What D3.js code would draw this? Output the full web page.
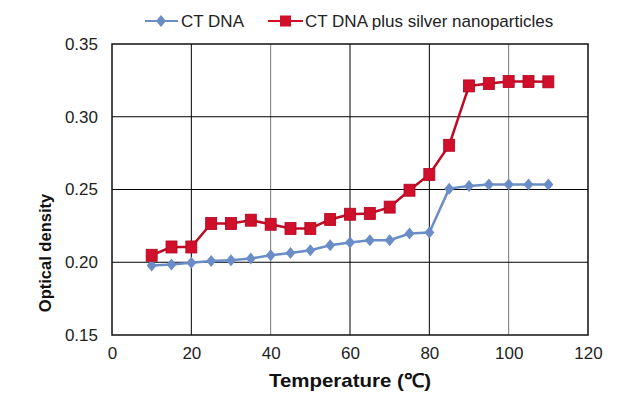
<!DOCTYPE html>
<html><head><meta charset="utf-8">
<script src="https://cdn.jsdelivr.net/npm/d3@7/dist/d3.min.js"></script>
<style>body{margin:0;background:#fff}svg{display:block}text{font-family:"Liberation Sans",Arial,sans-serif}</style>
</head><body><svg id="c" width="623" height="397"></svg>
<script>
const temps = [10,15,20,25,30,35,40,45,50,55,60,65,70,75,80,85,90,95,100,105,110];
const ctDNA = [0.1977,0.1984,0.1996,0.2009,0.2014,0.2025,0.2048,0.2064,0.2082,0.2117,0.2135,0.2151,0.2151,0.2197,0.2204,0.2506,0.2524,0.2534,0.2534,0.2534,0.2534];
const ctDNAAg = [0.2048,0.2105,0.2105,0.2266,0.2266,0.2289,0.2261,0.2232,0.2232,0.2294,0.2330,0.2335,0.2379,0.2495,0.2603,0.2804,0.3212,0.3228,0.3242,0.3242,0.3240];
const xTicks = [0,20,40,60,80,100,120];
const yTicks = [0.15,0.20,0.25,0.30,0.35];
const seriesNames = ["CT DNA","CT DNA plus silver nanoparticles"];

const svg = d3.select("#c");
const L=112,R=588,T=44,B=335;
const x = d3.scaleLinear().domain([0,120]).range([L,R]);
const y = d3.scaleLinear().domain([0.15,0.35]).range([B,T]);

// grid
const g = svg.append("g");
g.selectAll("line.v").data(xTicks.slice(1,-1)).join("line")
  .attr("x1",d=>x(d)).attr("x2",d=>x(d)).attr("y1",T).attr("y2",B)
  .attr("stroke",d=>(d===40||d===100)?"#7a7a7a":"#000").attr("stroke-width",1);
g.selectAll("line.h").data(yTicks.slice(1,-1)).join("line")
  .attr("x1",L).attr("x2",R).attr("y1",d=>y(d)).attr("y2",d=>y(d))
  .attr("stroke","#000").attr("stroke-width",1);
svg.append("rect").attr("x",L).attr("y",T).attr("width",R-L).attr("height",B-T)
  .attr("fill","none").attr("stroke","#111").attr("stroke-width",1.5);

// axes
const xa = svg.append("g").attr("transform",`translate(0,${B})`)
  .call(d3.axisBottom(x).tickValues(xTicks).tickSize(0).tickPadding(12));
const ya = svg.append("g").attr("transform",`translate(${L},0)`)
  .call(d3.axisLeft(y).tickValues(yTicks).tickFormat(d3.format(".2f")).tickSize(0).tickPadding(14));
[xa,ya].forEach(a=>{a.select(".domain").remove();a.selectAll("text").attr("font-size",17).attr("fill","#222").attr("font-family","Liberation Sans, Arial, sans-serif");});

// lines
const blue="#6b8dc7", red="#d0102a";
const line = d3.line().x(d=>x(d[0])).y(d=>y(d[1]));
const dBlue = temps.map((t,i)=>[t,ctDNA[i]]);
const dRed = temps.map((t,i)=>[t,ctDNAAg[i]]);
svg.append("path").datum(dBlue).attr("d",line).attr("fill","none").attr("stroke",blue).attr("stroke-width",2.5);
svg.append("path").datum(dRed).attr("d",line).attr("fill","none").attr("stroke","#c00a25").attr("stroke-width",2.5);
const diamond = (cx,cy)=>`M${cx},${cy-6}L${cx+5},${cy}L${cx},${cy+6}L${cx-5},${cy}Z`;
svg.append("g").selectAll("path").data(dBlue).join("path")
  .attr("d",d=>diamond(x(d[0]),y(d[1]))).attr("fill",blue);
svg.append("g").selectAll("rect").data(dRed).join("rect")
  .attr("x",d=>x(d[0])-5.5).attr("y",d=>y(d[1])-6).attr("width",11).attr("height",12)
  .attr("fill",red).attr("stroke","#b00020").attr("stroke-width",0.8);

// legend
const lg = svg.append("g");
lg.append("line").attr("x1",145).attr("x2",178).attr("y1",21).attr("y2",21).attr("stroke",blue).attr("stroke-width",2);
lg.append("path").attr("d",diamond(161,21)).attr("fill",blue);
lg.append("text").attr("x",181).attr("y",27).attr("font-size",17).attr("fill","#222").text(seriesNames[0]);
lg.append("line").attr("x1",268).attr("x2",303).attr("y1",21).attr("y2",21).attr("stroke",red).attr("stroke-width",2);
lg.append("rect").attr("x",280).attr("y",15.5).attr("width",11).attr("height",11).attr("fill",red);
lg.append("text").attr("x",305).attr("y",27).attr("font-size",17).attr("fill","#222").text(seriesNames[1]);

// titles
svg.append("text").attr("x",350).attr("y",387).attr("text-anchor","middle")
  .attr("font-size",19).attr("font-weight","bold").attr("fill","#111")
  .attr("textLength",162).attr("lengthAdjust","spacingAndGlyphs").text("Temperature (℃)");
svg.append("text").attr("transform","translate(51,253) rotate(-90)").attr("text-anchor","middle")
  .attr("font-size",16.5).attr("font-weight","bold").attr("fill","#111").text("Optical density");
</script></body></html>
